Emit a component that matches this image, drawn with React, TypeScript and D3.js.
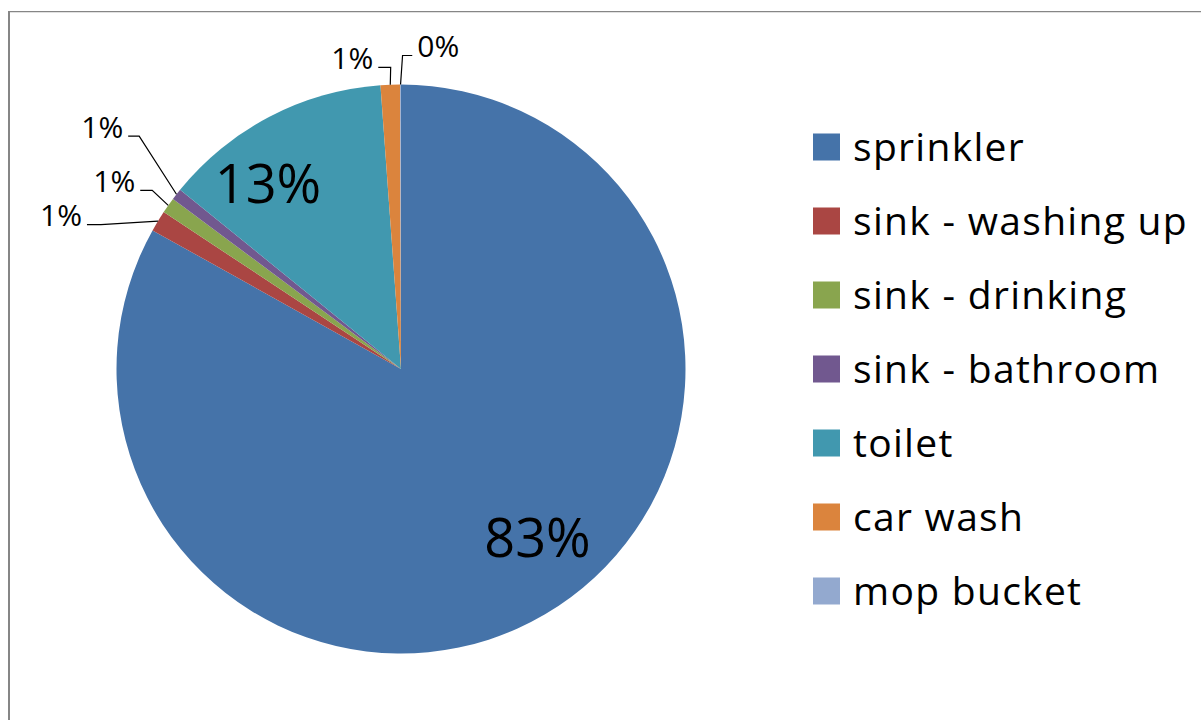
import React from "react";
import * as d3 from "d3";

const categories = [
  "sprinkler",
  "sink - washing up",
  "sink - drinking",
  "sink - bathroom",
  "toilet",
  "car wash",
  "mop bucket",
];
const values = [83.1, 1.2, 0.9, 0.65, 13.0, 1.1, 0.05];
const valueLabels = ["83%", "1%", "1%", "1%", "13%", "1%", "0%"];
const colors = ["#4573A9", "#AA4643", "#89A54E", "#71588F", "#4198AF", "#DB843D", "#93A9CF"];

// layout (not data)
const W = 1201;
const H = 720;
const CX = 401;
const CY = 369;
const R = 284.5;
type LabelLayout =
  | { kind: "inside"; dx: number; dy: number }
  | { kind: "leader"; elbow: [number, number]; end: [number, number]; anchor: "start" | "end" };
const labelLayout: LabelLayout[] = [
  { kind: "inside", dx: 136.5, dy: 188 },
  { kind: "leader", elbow: [-57, 3.5], end: [-71, 3.5], anchor: "end" },
  { kind: "leader", elbow: [-16, -15], end: [-28, -15], anchor: "end" },
  { kind: "leader", elbow: [-37.3, -58.2], end: [-48.3, -58.2], anchor: "end" },
  { kind: "inside", dx: -133, dy: -166 },
  { kind: "leader", elbow: [0.4, -17.3], end: [-12, -17.3], anchor: "end" },
  { kind: "leader", elbow: [2, -29], end: [11.7, -29], anchor: "start" },
];

const FONT = "'Open Sans', 'DejaVu Sans', sans-serif";

export default function App() {
  const pie = d3
    .pie<number>()
    .sort(null)
    .value((d) => d)
    .startAngle(0)
    .endAngle(2 * Math.PI);
  const arcs = pie(values);
  const arc = d3.arc<d3.PieArcDatum<number>>().innerRadius(0).outerRadius(R);

  const legendY = d3.scalePoint<string>().domain(categories).range([147, 591]);

  return (
    <div style={{ position: "absolute", left: 0, top: 0 }}>
      <svg width={W} height={H} style={{ display: "block", background: "#fff" }}>
        <rect x={0} y={0} width={W} height={H} fill="#fff" />
        <line x1={9} y1={11} x2={9} y2={H} stroke="#868686" strokeWidth={2} />
        <line x1={8} y1={11.6} x2={W} y2={11.6} stroke="#868686" strokeWidth={1.3} />
        <g transform={`translate(${CX},${CY})`}>
          {arcs.map((a, i) => (
            <path key={i} d={arc(a) || ""} fill={colors[i]} />
          ))}
          {arcs.map((a, i) => {
            const lay = labelLayout[i];
            if (lay.kind === "inside") {
              return (
                <text
                  key={"l" + i}
                  x={lay.dx}
                  y={lay.dy}
                  textAnchor="middle"
                  fontFamily={FONT}
                  fontSize={54}
                  fill="#000"
                >
                  {valueLabels[i]}
                </text>
              );
            }
            const mid = (a.startAngle + a.endAngle) / 2;
            const ax = R * Math.sin(mid);
            const ay = -R * Math.cos(mid);
            const ex = ax + lay.elbow[0];
            const ey = ay + lay.elbow[1];
            const px = ax + lay.end[0];
            const py = ay + lay.end[1];
            const gap = 5;
            return (
              <g key={"l" + i}>
                <polyline
                  points={`${ax},${ay} ${ex},${ey} ${px},${py}`}
                  fill="none"
                  stroke="#000"
                  strokeWidth={1.2}
                />
                <text
                  x={lay.anchor === "end" ? px - gap : px + gap}
                  y={py + 1.8}
                  textAnchor={lay.anchor}
                  fontFamily={FONT}
                  fontSize={30}
                  fill="#000"
                >
                  {valueLabels[i]}
                </text>
              </g>
            );
          })}
        </g>
        <g>
          {categories.map((c, i) => {
            const y = legendY(c) as number;
            return (
              <g key={c}>
                <rect x={813} y={y - 13.5} width={27} height={27} fill={colors[i]} />
                <text
                  x={853}
                  y={y + 13.5}
                  fontFamily={FONT}
                  fontSize={39}
                  letterSpacing={1.3}
                  fill="#000"
                >
                  {c}
                </text>
              </g>
            );
          })}
        </g>
      </svg>
    </div>
  );
}
